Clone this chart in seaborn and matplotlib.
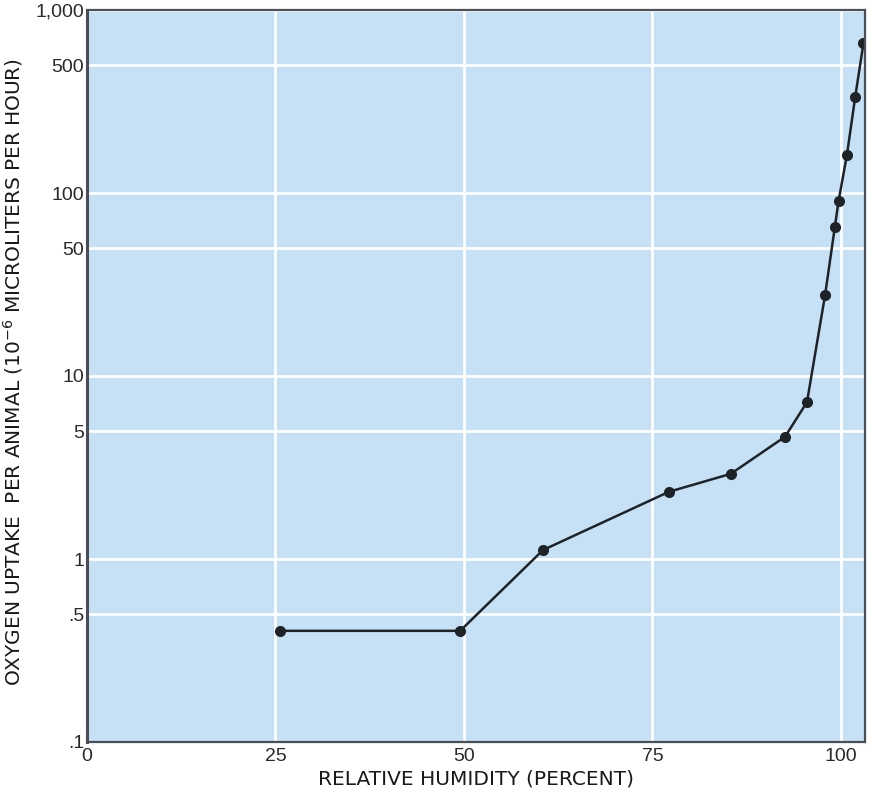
import matplotlib
matplotlib.use("Agg")
import matplotlib.pyplot as plt
import seaborn as sns
import pandas as pd
from matplotlib.ticker import FixedLocator, FixedFormatter, NullLocator

humidity = [25.6, 49.5, 60.5, 77.2, 85.4, 92.6, 95.5, 97.9, 99.2, 99.7, 100.8, 101.9, 103.0]
oxygen = [0.405, 0.405, 1.12, 2.33, 2.92, 4.66, 7.19, 27.6, 65.2, 90.8, 161, 335, 660]

x_ticks = [0, 25, 50, 75, 100]
x_ticklabels = ["0", "25", "50", "75", "100"]
y_ticks = [0.1, 0.5, 1, 5, 10, 50, 100, 500, 1000]
y_ticklabels = [".1", ".5", "1", "5", "10", "50", "100", "500", "1,000"]

df = pd.DataFrame({"humidity": humidity, "oxygen": oxygen})

sns.set_theme(style="darkgrid")
plt.rcParams["font.family"] = ["Liberation Sans", "DejaVu Sans"]

fig = plt.figure(figsize=(8.79, 7.92), dpi=100)
ax = fig.add_axes([87 / 879, 1 - 742 / 792, (865 - 87) / 879, (742 - 10) / 792])
ax.set_facecolor("#c6e1f6")

sns.lineplot(data=df, x="humidity", y="oxygen", ax=ax, color="#1e2328",
             linewidth=1.8, marker="o", markersize=8, markeredgewidth=0,
             markerfacecolor="#1e2328", sort=False)

ax.set_yscale("log")
ax.set_xlim(0, 103.2)
ax.set_ylim(0.1, 1000)
ax.xaxis.set_major_locator(FixedLocator(x_ticks))
ax.xaxis.set_major_formatter(FixedFormatter(x_ticklabels))
ax.yaxis.set_major_locator(FixedLocator(y_ticks))
ax.yaxis.set_major_formatter(FixedFormatter(y_ticklabels))
ax.yaxis.set_minor_locator(NullLocator())
ax.xaxis.set_minor_locator(NullLocator())

ax.grid(True, which="major", color="white", linewidth=2.0)
ax.tick_params(axis="both", length=0, colors="#2a2a2a", labelsize=14)
ax.tick_params(axis="x", pad=4)
ax.tick_params(axis="y", pad=2)

for s in ax.spines.values():
    s.set_visible(True)
    s.set_color("#4a4e55")
    s.set_linewidth(1.6)
ax.spines["left"].set_linewidth(2.2)

ax.set_xlabel("RELATIVE HUMIDITY (PERCENT)", fontsize=14.5, color="#1a1a1a",
              family=["DejaVu Sans"])
ax.xaxis.set_label_coords(0.5, -0.037)
ax.set_ylabel("OXYGEN UPTAKE  PER ANIMAL (10$^{-6}$ MICROLITERS PER HOUR)",
              fontsize=14.5, color="#1a1a1a", family=["DejaVu Sans"])
ax.yaxis.set_label_coords(-0.080, 0.505)
fig.patch.set_facecolor("white")
fig.savefig("out.png", dpi=100, facecolor="white")
